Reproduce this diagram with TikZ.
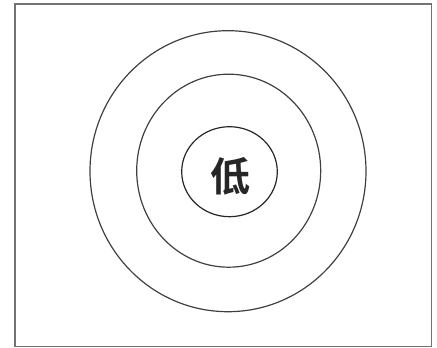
\documentclass[tikz,border=0pt]{standalone}
\usepackage{fontspec}
\newfontfamily\cjk{Noto Sans CJK SC Bold}
\usetikzlibrary{shapes.geometric}
\begin{document}
\begin{tikzpicture}[x=1pt,y=-1pt,
  ring/.style={draw=black!75, line width=1.2pt, ellipse, inner sep=0pt},
  frame/.style={draw=black!55, line width=1.6pt}]
\useasboundingbox (0,0) rectangle (437,348);
\draw[frame] (15,4) rectangle (431.5,346.5);
\node[ring, minimum width=276pt, minimum height=281pt] (outer) at (228,171.2) {};
\node[ring, minimum width=184pt, minimum height=193pt] (middle) at (228.7,170.7) {};
\node[ring, draw=black!85, minimum width=95.6pt, minimum height=90pt] (inner) at (229.5,171.7) {};
\node[text=black!85, font=\cjk\fontsize{40}{40}\selectfont, inner sep=0pt] (label) at (230,176) {低};
\end{tikzpicture}
\end{document}
